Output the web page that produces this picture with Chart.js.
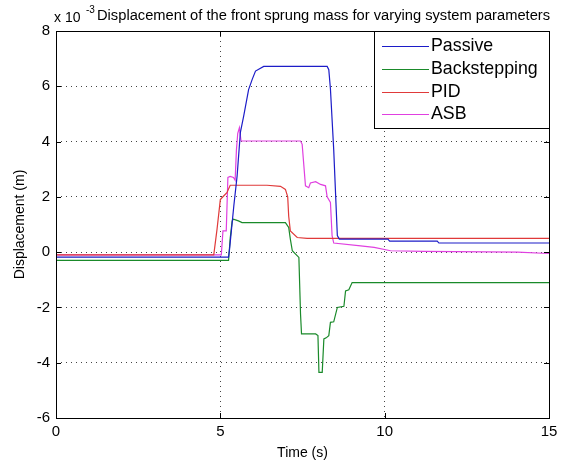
<!DOCTYPE html>
<html>
<head>
<meta charset="utf-8">
<script src="https://cdn.jsdelivr.net/npm/chart.js@4/dist/chart.umd.min.js"></script>
<style>
  html, body { margin: 0; padding: 0; background: #fff; }
  #c { display: block; }
</style>
</head>
<body>
<canvas id="c" width="564" height="465"></canvas>
<script>
// ---- data (displacement in units of 10^-3 m) ----
const titleText = "Displacement of the front sprung mass for varying system parameters";
const seriesNames = ["Passive", "Backstepping", "PID", "ASB"];
const xTicks = [0, 5, 10, 15];
const yTicks = [-6, -4, -2, 0, 2, 4, 6, 8];

const passiveT = [0, 5.25, 5.28, 5.41, 5.51, 5.61, 5.71, 5.86, 5.97, 6.07, 6.32, 8.25, 8.30, 8.35, 8.45, 8.56, 8.62, 10.1, 10.15, 11.6, 11.65, 15];
const passiveY = [-0.18, -0.18, 0.1, 1.67, 2.75, 4.33, 4.92, 5.88, 6.25, 6.55, 6.72, 6.72, 6.6, 5.9, 3.7, 0.6, 0.47, 0.47, 0.4, 0.4, 0.33, 0.33];

const backT = [0, 5.25, 5.30, 5.36, 5.40, 5.55, 5.66, 6.98, 7.08, 7.13, 7.19, 7.29, 7.39, 7.44, 7.47, 7.90, 7.97, 8.00, 8.10, 8.15, 8.22, 8.30, 8.35, 8.45, 8.56, 8.76, 8.81, 8.91, 9.01, 15];
const backY = [-0.3, -0.3, 0.5, 1.13, 1.19, 1.13, 1.07, 1.07, 0.89, 0.47, 0.05, -0.07, -0.19, -2.24, -2.96, -2.96, -3.02, -4.35, -4.35, -3.14, -3.1, -3.02, -2.54, -2.52, -2.0, -1.96, -1.4, -1.36, -1.1, -1.1];

const pidT = [0, 4.8, 4.9, 5.0, 5.1, 5.2, 5.3, 6.42, 6.83, 6.98, 7.05, 7.08, 7.13, 7.34, 7.64, 15];
const pidY = [-0.1, -0.1, 0.83, 1.9, 2.03, 2.15, 2.42, 2.42, 2.38, 2.27, 2.0, 1.3, 0.77, 0.53, 0.5, 0.5];

const asbT = [0, 5.03, 5.08, 5.18, 5.23, 5.30, 5.40, 5.45, 5.49, 5.53, 5.58, 5.63, 7.44, 7.49, 7.59, 7.69, 7.74, 7.90, 8.05, 8.20, 8.25, 8.35, 8.40, 8.45, 9.27, 9.68, 10.18, 11.2, 14.04, 15];
const asbY = [-0.1, -0.1, 0.77, 0.77, 2.7, 2.74, 2.7, 2.6, 3.7, 4.3, 4.5, 4.02, 4.02, 3.9, 2.4, 2.33, 2.5, 2.55, 2.45, 2.4, 2.0, 1.8, 0.6, 0.33, 0.23, 0.17, 0.05, 0.03, 0.0, -0.05];

const seriesColors = ["#1c1cc8", "#1a8a2a", "#e03a3a", "#e040e0"];

function pts(t, y) { return t.map((v, i) => ({ x: v, y: y[i] })); }

const FONT = '"Liberation Sans", Arial, Helvetica, sans-serif';

const frameAndDecor = {
  id: 'frameAndDecor',
  afterDraw(chart) {
    const { ctx, chartArea: a, scales } = chart;
    const xs = scales.x, ys = scales.y;
    ctx.save();
    // inner tick marks
    ctx.strokeStyle = '#000';
    ctx.lineWidth = 1;
    ctx.beginPath();
    xTicks.forEach(v => {
      const px = Math.round(xs.getPixelForValue(v)) + 0.5;
      ctx.moveTo(px, a.bottom); ctx.lineTo(px, a.bottom - 5);
      ctx.moveTo(px, a.top); ctx.lineTo(px, a.top + 5);
    });
    yTicks.forEach(v => {
      const py = Math.round(ys.getPixelForValue(v)) + 0.5;
      ctx.moveTo(a.left, py); ctx.lineTo(a.left + 5, py);
      ctx.moveTo(a.right, py); ctx.lineTo(a.right - 5, py);
    });
    ctx.stroke();
    // frame
    ctx.strokeRect(Math.round(a.left) + 0.5, Math.round(a.top) + 0.5,
                   Math.round(a.right - a.left), Math.round(a.bottom - a.top));

    // title
    ctx.fillStyle = '#000';
    ctx.font = '14.7px ' + FONT;
    ctx.textAlign = 'left';
    ctx.textBaseline = 'middle';
    ctx.fillText(titleText, 97, 16);
    // exponent
    ctx.font = '14px ' + FONT;
    ctx.fillText('x 10', 54, 18);
    ctx.font = '10px ' + FONT;
    ctx.fillText('-3', 86, 10);

    // legend box
    const lx = 374, ly = Math.round(a.top), lw = Math.round(a.right) - 374, lh = 97;
    ctx.fillStyle = '#fff';
    ctx.fillRect(lx, ly, lw, lh);
    ctx.strokeStyle = '#000';
    ctx.strokeRect(lx + 0.5, ly + 0.5, lw, lh);
    ctx.font = '17.8px ' + FONT;
    ctx.textBaseline = 'middle';
    const rows = [46, 69, 92, 114];
    chart.data.datasets.forEach((ds, i) => {
      ctx.strokeStyle = ds.borderColor;
      ctx.beginPath();
      ctx.moveTo(382, rows[i] + 0.5); ctx.lineTo(429, rows[i] + 0.5);
      ctx.stroke();
      ctx.fillStyle = '#000';
      ctx.fillText(ds.label, 431, rows[i]);
    });
    ctx.restore();
  }
};

new Chart(document.getElementById('c'), {
  type: 'line',
  data: {
    datasets: [
      { label: seriesNames[0], data: pts(passiveT, passiveY), borderColor: seriesColors[0] },
      { label: seriesNames[1], data: pts(backT, backY), borderColor: seriesColors[1] },
      { label: seriesNames[2], data: pts(pidT, pidY), borderColor: seriesColors[2] },
      { label: seriesNames[3], data: pts(asbT, asbY), borderColor: seriesColors[3] }
    ]
  },
  options: {
    responsive: false,
    animation: false,
    devicePixelRatio: 1,
    layout: { padding: { top: 31, right: 15, bottom: 0, left: 0 } },
    elements: {
      point: { radius: 0 },
      line: { borderWidth: 1.2, tension: 0, fill: false }
    },
    plugins: { legend: { display: false }, title: { display: false }, tooltip: { enabled: false } },
    scales: {
      x: {
        type: 'linear', min: 0, max: 15,
        afterBuildTicks: s => { s.ticks = xTicks.map(v => ({ value: v })); },
        afterFit: s => { s.height = 47; },
        ticks: { color: '#000', font: { family: FONT, size: 15 }, padding: 5, maxRotation: 0 },
        grid: { color: '#444', drawTicks: false, lineWidth: 1 },
        border: { display: false, dash: [1, 4] },
        title: { display: true, text: 'Time (s)', color: '#000', font: { family: FONT, size: 14 }, padding: { top: 0, bottom: 3 } }
      },
      y: {
        type: 'linear', min: -6, max: 8,
        afterBuildTicks: s => { s.ticks = yTicks.map(v => ({ value: v })); },
        afterFit: s => { s.width = 56; },
        ticks: { color: '#000', font: { family: FONT, size: 15 }, padding: 6 },
        grid: { color: '#444', drawTicks: false, lineWidth: 1 },
        border: { display: false, dash: [1, 4] },
        title: { display: true, text: 'Displacement (m)', color: '#000', font: { family: FONT, size: 14 }, padding: { top: 12, bottom: 0 } }
      }
    }
  },
  plugins: [frameAndDecor]
});
</script>
</body>
</html>
